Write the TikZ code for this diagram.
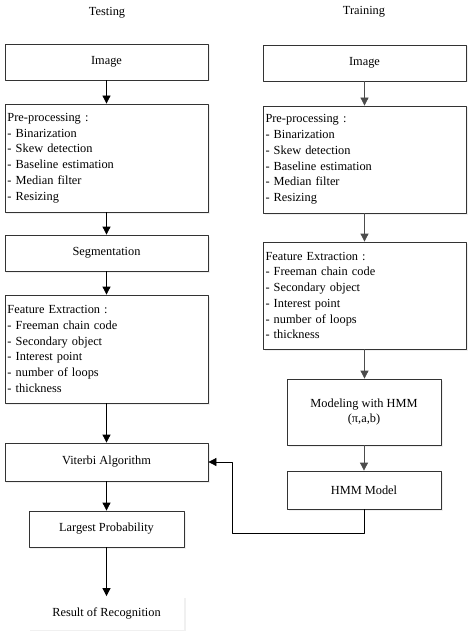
\documentclass[tikz,border=0pt]{standalone}
\usepackage{fontspec}
\setmainfont{Liberation Serif}
\usetikzlibrary{arrows.meta,shadows}
\begin{document}
\begin{tikzpicture}[x=1bp,y=-1bp,>={Triangle[width=8bp,length=8bp]},line join=round,
	font=\fontsize{12.4}{15.8}\selectfont,
	box/.style={draw=black!80,line width=.8bp,fill=white,inner sep=2bp,align=center,
		minimum width=203bp,minimum height=36bp,
		drop shadow={opacity=.12,shadow xshift=1.5bp,shadow yshift=-1.5bp}},
	list/.style={box,text width=198bp,align=left},
	link/.style={->,line width=.8bp},
	glink/.style={link,draw=black!70,fill=black!70}]
	\useasboundingbox (0,0) rectangle (472,638);
	% titles
	\node (T1) at (107,13) {Testing};
	\node (T2) at (364,12) {Training};
	% testing
	\node[box] (I1) at (106.5,62) {Image};
	\node[list,minimum height=108bp] (P1) at (106.5,158) {Pre-processing :\\- Binarization\\- Skew detection\\- Baseline estimation\\- Median filter\\- Resizing};
	\node[box] (S1) at (106.5,253) {Segmentation};
	\node[list,minimum height=108bp] (F1) at (106.5,349) {Feature Extraction :\\- Freeman chain code\\- Secondary object\\- Interest point\\- number of loops\\- thickness};
	\node[box,minimum height=38bp] (V) at (106.5,462) {Viterbi Algorithm};
	\node[box,minimum width=155bp] (L) at (106.5,529) {Largest Probability};
	\node[box,draw=none,minimum width=155bp,minimum height=33bp] (R) at (106.5,613) {Result of Recognition};
	% training
	\node[box] (I2) at (364.5,63) {Image};
	\node[list,minimum height=107bp] (P2) at (364.5,159.5) {Pre-processing :\\- Binarization\\- Skew detection\\- Baseline estimation\\- Median filter\\- Resizing};
	\node[list,minimum height=107bp] (F2) at (364.5,295.5) {Feature Extraction :\\- Freeman chain code\\- Secondary object\\- Interest point\\- number of loops\\- thickness};
	\node[box,minimum width=154bp,minimum height=66bp] (M) at (364,412) {Modeling with HMM\\(π,a,b)};
	\node[box,minimum width=154bp,minimum height=38bp] (H) at (364,490) {HMM Model};
	\coordinate (B) at (232,533);
	% arrows
	\draw[link] (I1) -- (P1);
	\draw[link] (P1) -- (S1);
	\draw[link] (S1) -- (F1);
	\draw[link] (F1) -- (V);
	\draw[link] (V) -- (L);
	\draw[link] (L) -- (R);
	\draw[glink] (I2) -- (P2);
	\draw[glink] (P2) -- (F2);
	\draw[glink] (F2.south) -- (M.north-|F2.south);
	\draw[glink] (M) -- (H);
	\draw[link] (H.south) |- (B) |- (V.east);
\end{tikzpicture}
\end{document}
